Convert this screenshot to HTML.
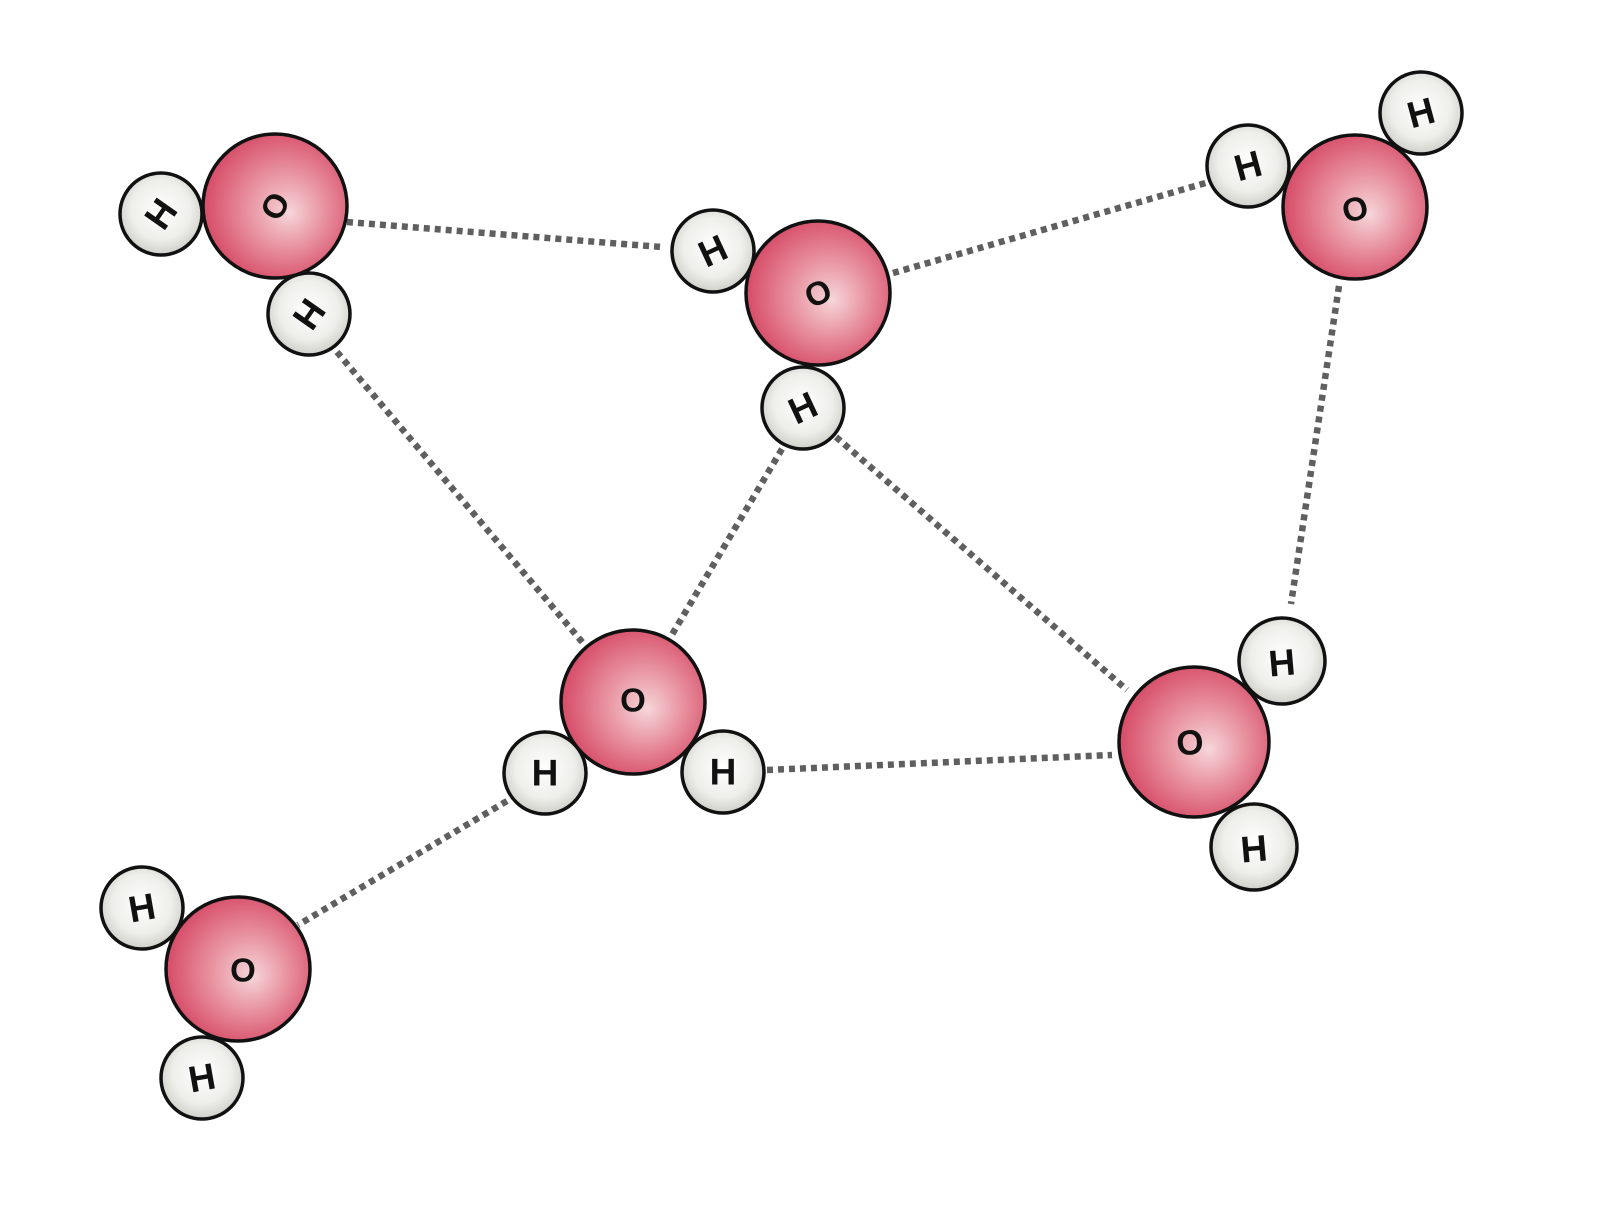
<!DOCTYPE html>
<html><head><meta charset="utf-8"><style>
html,body{margin:0;padding:0;background:#fff;}
svg{display:block}
text{font-family:"Liberation Sans",sans-serif;font-weight:bold;text-anchor:middle;dominant-baseline:central;fill:#111}
</style></head><body>
<svg width="1599" height="1225" viewBox="0 0 1599 1225" xmlns="http://www.w3.org/2000/svg">
<defs>
<radialGradient id="og" cx="0.55" cy="0.5" r="0.6" fx="0.6" fy="0.55">
<stop offset="0" stop-color="#f6d6d9"/><stop offset="0.45" stop-color="#e8919f"/><stop offset="1" stop-color="#d3405e"/>
</radialGradient>
<radialGradient id="hg" cx="0.5" cy="0.45" r="0.6">
<stop offset="0" stop-color="#ffffff"/><stop offset="0.6" stop-color="#eeeeea"/><stop offset="1" stop-color="#c8c8c2"/>
</radialGradient>
</defs>
<g stroke="#5f5f5f" stroke-width="6.5" stroke-dasharray="6 5" fill="none">
<line x1="347" y1="222" x2="661" y2="247"/>
<line x1="893" y1="273" x2="1209" y2="182"/>
<line x1="1339" y1="286" x2="1291" y2="604"/>
<line x1="337" y1="352" x2="583" y2="643"/>
<line x1="782" y1="449" x2="670" y2="638"/>
<line x1="836" y1="437" x2="1127" y2="690"/>
<line x1="767" y1="770" x2="1112" y2="755"/>
<line x1="507" y1="801" x2="298" y2="925"/>
</g>
<g stroke="#111" stroke-width="3.5">
<circle cx="161" cy="214" r="41" fill="url(#hg)"/>
<circle cx="309" cy="314" r="41" fill="url(#hg)"/>
<circle cx="275" cy="206" r="72" fill="url(#og)"/>
<circle cx="713" cy="251" r="41" fill="url(#hg)"/>
<circle cx="818" cy="293" r="72" fill="url(#og)"/>
<circle cx="803" cy="408" r="41" fill="url(#hg)"/>
<circle cx="1248" cy="166" r="41" fill="url(#hg)"/>
<circle cx="1421" cy="113" r="41" fill="url(#hg)"/>
<circle cx="1355" cy="207" r="72" fill="url(#og)"/>
<circle cx="633" cy="702" r="72" fill="url(#og)"/>
<circle cx="545" cy="773" r="41" fill="url(#hg)"/>
<circle cx="723" cy="772" r="41" fill="url(#hg)"/>
<circle cx="1282" cy="661" r="43" fill="url(#hg)"/>
<circle cx="1254" cy="847" r="43" fill="url(#hg)"/>
<circle cx="1194" cy="742" r="75" fill="url(#og)"/>
<circle cx="142" cy="908" r="41" fill="url(#hg)"/>
<circle cx="202" cy="1078" r="41" fill="url(#hg)"/>
<circle cx="238" cy="969" r="72" fill="url(#og)"/>
</g>
<g font-size="37">
<text x="161" y="214" transform="rotate(-55 161 214)">H</text>
<text x="309" y="314" transform="rotate(125 309 314)">H</text>
<text x="275" y="206" font-size="33" transform="rotate(-60 275 206)">O</text>
<text x="713" y="251" transform="rotate(-25 713 251)">H</text>
<text x="818" y="293" font-size="33" transform="rotate(-25 818 293)">O</text>
<text x="803" y="408" transform="rotate(-25 803 408)">H</text>
<text x="1248" y="166" transform="rotate(-15 1248 166)">H</text>
<text x="1421" y="113" transform="rotate(-15 1421 113)">H</text>
<text x="1355" y="209" font-size="33" transform="rotate(-15 1355 209)">O</text>
<text x="633" y="700" font-size="33">O</text>
<text x="545" y="773">H</text>
<text x="723" y="772">H</text>
<text x="1282" y="663" transform="rotate(-5 1282 663)">H</text>
<text x="1254" y="849" transform="rotate(-5 1254 849)">H</text>
<text x="1190" y="743" font-size="35" transform="rotate(-5 1190 743)">O</text>
<text x="142" y="908" transform="rotate(-10 142 908)">H</text>
<text x="202" y="1078" transform="rotate(-10 202 1078)">H</text>
<text x="243" y="970" font-size="33">O</text>
</g>
</svg>
</body></html>
